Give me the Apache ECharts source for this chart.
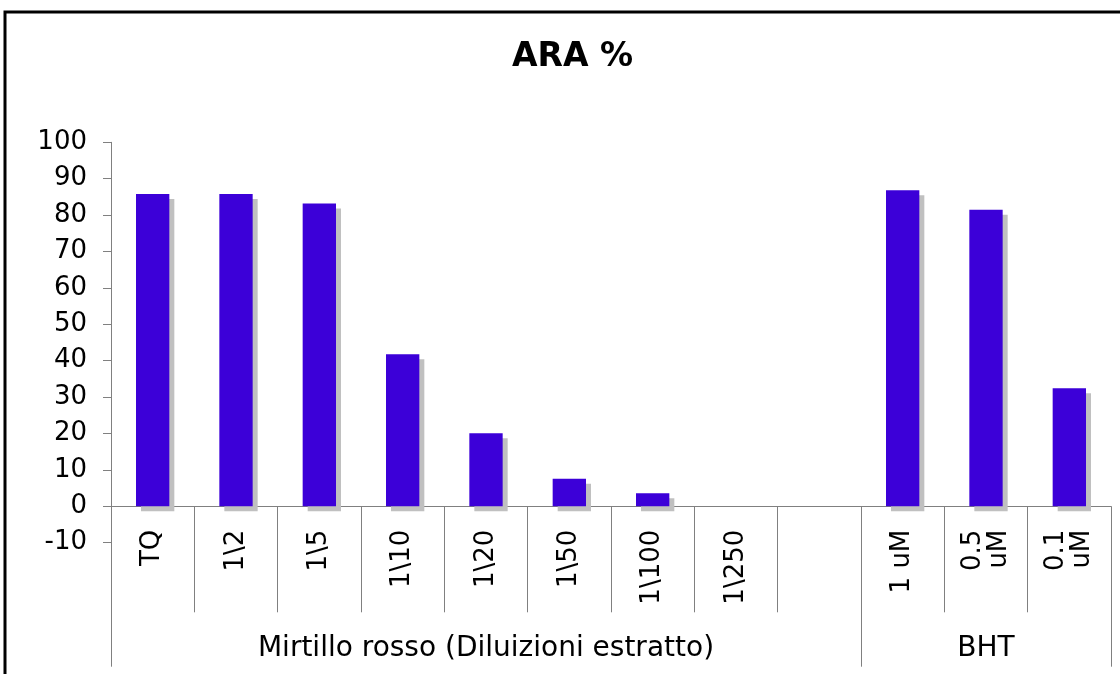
<!DOCTYPE html>
<html>
<head>
<meta charset="utf-8">
<script src="https://cdn.jsdelivr.net/npm/echarts@6/dist/echarts.min.js"></script>
<style>
html,body{margin:0;padding:0;background:#fff;}
#chart{width:1120px;height:674px;}
</style>
</head>
<body>
<div id="chart"></div>
<script>
var categories = ['TQ', '1\\2', '1\\5', '1\\10', '1\\20', '1\\50', '1\\100', '1\\250', '', '1 uM', '0.5\nuM', '0.1\nuM'];
var values = [85.8, 85.8, 83.2, 41.8, 20.1, 7.6, 3.6, 0, null, 86.8, 81.5, 32.4];
var groupLabels = ['', '', '', '', 'Mirtillo rosso (Diluizioni estratto)', '', '', '', '', '', 'BHT', ''];
var groupStarts = [0, 9];
var yMin = -10, yMax = 100, yStep = 10;
var titleText = 'ARA %';

var chart = echarts.init(document.getElementById('chart'), null, {renderer: 'canvas'});
var font = 'DejaVu Sans, Verdana, sans-serif';
chart.setOption({
  backgroundColor: '#ffffff',
  animation: false,
  title: {
    text: titleText,
    left: 507,
    top: 36,
    textStyle: {fontFamily: font, fontWeight: 'bold', fontSize: 33, color: '#000'}
  },
  graphic: [{
    type: 'rect',
    shape: {x: 5, y: 12, width: 1300, height: 900},
    style: {fill: 'none', stroke: '#000', lineWidth: 3},
    silent: true
  }],
  grid: {left: 111, top: 142.3, width: 1000, height: 400.4, containLabel: false},
  xAxis: [{
    type: 'category',
    data: categories,
    position: 'bottom',
    axisLine: {show: true, onZero: true, lineStyle: {color: '#808080', width: 1}},
    axisTick: {show: true, interval: 0, length: 106, lineStyle: {color: '#808080', width: 1}},
    axisLabel: {interval: 0, rotate: 90, margin: -13, fontFamily: font, fontSize: 26, color: '#000'},
    splitLine: {show: false}
  }, {
    type: 'category',
    data: groupLabels,
    position: 'bottom',
    axisLine: {show: false, onZero: false},
    axisTick: {show: true, length: 124, interval: function (i) { return groupStarts.indexOf(i) >= 0; }, lineStyle: {color: '#808080', width: 1}},
    axisLabel: {interval: 0, margin: 92, fontFamily: font, fontSize: 28, color: '#000'},
    splitLine: {show: false}
  }],
  yAxis: {
    type: 'value',
    min: yMin,
    max: yMax,
    interval: yStep,
    axisLine: {show: true, lineStyle: {color: '#808080', width: 1}},
    axisTick: {show: true, length: 8, lineStyle: {color: '#808080', width: 1}},
    axisLabel: {margin: 24, fontFamily: font, fontSize: 26, color: '#000'},
    splitLine: {show: false}
  },
  series: [{
    type: 'bar',
    xAxisIndex: 0,
    data: values,
    barWidth: '40%',
    itemStyle: {
      color: '#3c00d8',
      shadowColor: '#c0c0c0',
      shadowOffsetX: 5,
      shadowOffsetY: 5,
      shadowBlur: 0
    }
  }]
});
</script>
</body>
</html>
